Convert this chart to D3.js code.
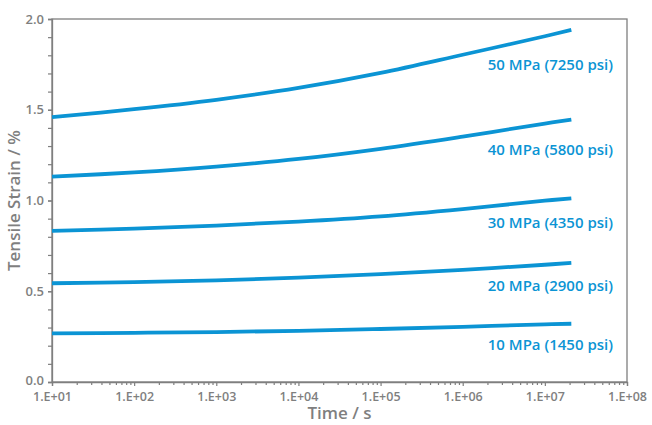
<!DOCTYPE html>
<html><head><meta charset="utf-8">
<script src="https://cdn.jsdelivr.net/npm/d3@7"></script>
<style>
html,body{margin:0;padding:0;background:#fff;}
svg{display:block;font-family:"Open Sans",sans-serif;}
</style></head>
<body><svg id="c" width="652" height="425"></svg>
<script>
const times = [1e1, 1e2, 1e3, 1e4, 1e5, 1e6, 1e7, 2.1e7];
const s10 = [0.268, 0.271, 0.275, 0.282, 0.292, 0.304, 0.318, 0.321];
const s20 = [0.544, 0.550, 0.560, 0.575, 0.594, 0.618, 0.646, 0.656];
const s30 = [0.833, 0.845, 0.862, 0.884, 0.913, 0.953, 0.999, 1.012];
const s40 = [1.131, 1.155, 1.187, 1.229, 1.285, 1.352, 1.424, 1.446];
const s50 = [1.459, 1.503, 1.555, 1.620, 1.703, 1.803, 1.905, 1.940];
const seriesNames = ["10 MPa (1450 psi)", "20 MPa (2900 psi)", "30 MPa (4350 psi)", "40 MPa (5800 psi)", "50 MPa (7250 psi)"];
const labelStrain = [0.207, 0.529, 0.877, 1.28, 1.75];
const xTickLabels = ["1.E+01","1.E+02","1.E+03","1.E+04","1.E+05","1.E+06","1.E+07","1.E+08"];
const yTickLabels = ["0.0","0.5","1.0","1.5","2.0"];

const allSeries = [s10, s20, s30, s40, s50];
const W = 652, H = 425;
const m = {l:52, r:25, t:19, b:43};
const svg = d3.select("#c");
const x = d3.scaleLog().domain([1e1, 1e8]).range([m.l, W - m.r]);
const y = d3.scaleLinear().domain([0, 2]).range([H - m.b, m.t]);
const axisColor = "#7f7f7f";
const lineColor = "#0b94d4";

// frame
svg.append("rect").attr("x", m.l).attr("y", m.t)
  .attr("width", W - m.r - m.l).attr("height", H - m.b - m.t)
  .attr("fill", "none").attr("stroke", axisColor).attr("stroke-width", 1.3);

// x axis
const majorX = d3.range(1, 9).map(e => Math.pow(10, e));
const minorX = [];
for (let e = 1; e < 8; e++) for (let k = 2; k <= 9; k++) minorX.push(k * Math.pow(10, e));
const gx = svg.append("g").attr("transform", `translate(0,${H - m.b})`);
gx.append("g").call(d3.axisBottom(x).tickValues(minorX).tickSize(3).tickFormat(""))
  .call(g => g.select(".domain").remove());
gx.append("g").call(d3.axisBottom(x).tickValues(majorX).tickSize(4).tickPadding(6)
  .tickFormat((d, i) => xTickLabels[i]))
  .call(g => g.select(".domain").attr("stroke", axisColor).attr("stroke-width", 1.3));
gx.selectAll("line").attr("stroke", axisColor).attr("stroke-width", 1.2);
gx.selectAll("text").attr("fill", axisColor).attr("font-size", 12.5).attr("font-weight", 600)
  .attr("font-family", "'Open Sans',sans-serif");

// y axis
const gy = svg.append("g").attr("transform", `translate(${m.l},0)`);
gy.append("g").call(d3.axisLeft(y).tickValues(d3.range(0, 21).map(d => d / 10)).tickSize(4).tickFormat(""))
  .call(g => g.select(".domain").remove());
gy.append("g").call(d3.axisLeft(y).tickValues([0, 0.5, 1, 1.5, 2]).tickSize(4).tickPadding(4)
  .tickFormat((d, i) => yTickLabels[i]))
  .call(g => g.select(".domain").attr("stroke", axisColor).attr("stroke-width", 1.3));
gy.selectAll("line").attr("stroke", axisColor).attr("stroke-width", 1.2);
gy.selectAll("text").attr("fill", axisColor).attr("font-size", 13).attr("font-weight", 600)
  .attr("font-family", "'Open Sans',sans-serif");
gy.selectAll(".tick text").filter((d) => d === 0).attr("dy", "0.2em");

// axis titles
svg.append("text").attr("x", (m.l + W - m.r) / 2).attr("y", 419)
  .attr("text-anchor", "middle").attr("fill", axisColor)
  .attr("font-size", 17).attr("font-weight", 600).text("Time / s");
svg.append("text").attr("transform", `translate(20,${(m.t + H - m.b) / 2}) rotate(-90)`)
  .attr("text-anchor", "middle").attr("fill", axisColor)
  .attr("font-size", 17).attr("font-weight", 600).text("Tensile Strain / %");

// lines
const line = d3.line().x(d => x(d[0])).y(d => y(d[1])).curve(d3.curveCatmullRom.alpha(0.5));
allSeries.forEach((s, i) => {
  svg.append("path").datum(times.map((t, j) => [t, s[j]]))
    .attr("d", line).attr("fill", "none").attr("stroke", lineColor)
    .attr("stroke-width", 3.8).attr("stroke-linecap", "butt");
  svg.append("text").attr("x", 613).attr("y", y(labelStrain[i]))
    .attr("dy", "0.35em").attr("text-anchor", "end").attr("fill", lineColor)
    .attr("font-size", 15).attr("font-weight", 600).text(seriesNames[i]);
});
</script></body></html>
